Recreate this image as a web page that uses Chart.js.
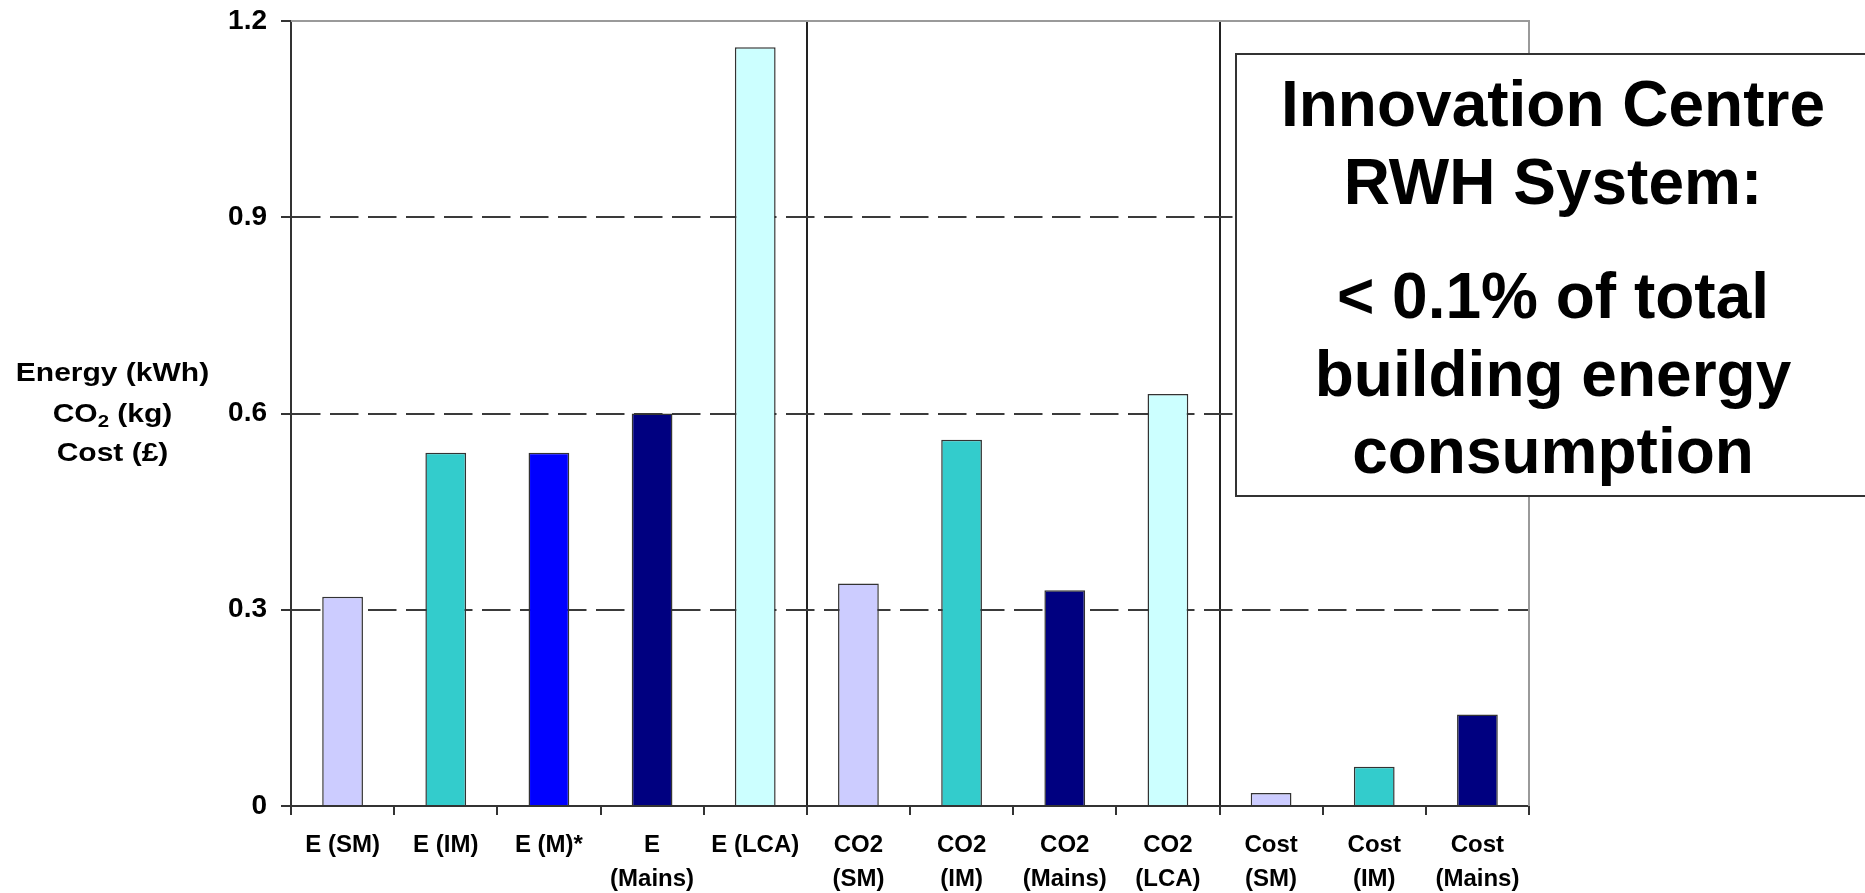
<!DOCTYPE html>
<html>
<head>
<meta charset="utf-8">
<title>Innovation Centre RWH System</title>
<script src="https://cdn.jsdelivr.net/npm/chart.js"></script>
<style>
  html, body { margin: 0; padding: 0; background: #ffffff; }
  canvas { display: block; }
</style>
</head>
<body>
<canvas id="chart" width="1865" height="893"></canvas>
<script>
// Categories on the x axis (multi-line labels are arrays of lines)
const categories = [
  'E (SM)', 'E (IM)', 'E (M)*', ['E', '(Mains)'], 'E (LCA)',
  ['CO2', '(SM)'], ['CO2', '(IM)'], ['CO2', '(Mains)'], ['CO2', '(LCA)'],
  ['Cost', '(SM)'], ['Cost', '(IM)'], ['Cost', '(Mains)']
];

// Bar values (kWh, kg CO2, £)
const values = [0.32, 0.54, 0.54, 0.60, 1.16, 0.34, 0.56, 0.33, 0.63, 0.02, 0.06, 0.14];

// Fill colour of each bar
const barColors = [
  '#CCCCFF', '#33CCCC', '#0000FF', '#000080', '#CCFFFF',
  '#CCCCFF', '#33CCCC', '#000080', '#CCFFFF',
  '#CCCCFF', '#33CCCC', '#000080'
];

// Value axis range and step
const yMin = 0;
const yMax = 1.2;
const yStep = 0.3;

// Group boundaries (index of the first category of each new group)
const groupStarts = [5, 9];

// Left-hand axis caption
const axisTitleLines = ['Energy (kWh)', 'CO\u2082 (kg)', 'Cost (\u00A3)'];

// Note box text
const noteLines = ['Innovation Centre', 'RWH System:', '< 0.1% of total', 'building energy', 'consumption'];

const FONT = '"Liberation Sans", Arial, Helvetica, sans-serif';

// Solid grey frame along the top and right of the plot area
const framePlugin = {
  id: 'plotFrame',
  beforeDatasetsDraw(chart) {
    const { ctx, chartArea: a } = chart;
    ctx.save();
    ctx.strokeStyle = '#9a9a9a';
    ctx.lineWidth = 2;
    ctx.beginPath();
    ctx.moveTo(a.left, a.top);
    ctx.lineTo(a.right, a.top);
    ctx.lineTo(a.right, a.bottom);
    ctx.stroke();
    ctx.restore();
  }
};

// Three-line caption to the left of the value axis, with subscript digits
const axisTitlePlugin = {
  id: 'axisCaption',
  afterDraw(chart) {
    const ctx = chart.ctx;
    const cx = 112.5;
    const baselines = [381, 422, 461];
    const size = 25;
    const subSize = 17;
    const stretch = 1.2;
    ctx.save();
    ctx.fillStyle = '#000';
    ctx.textBaseline = 'alphabetic';
    axisTitleLines.forEach((line, i) => {
      const runs = [];
      let buf = '';
      for (const ch of line) {
        if (ch === '\u2082') {
          if (buf) runs.push({ text: buf, sub: false });
          runs.push({ text: '2', sub: true });
          buf = '';
        } else {
          buf += ch;
        }
      }
      if (buf) runs.push({ text: buf, sub: false });
      let w = 0;
      runs.forEach(r => {
        ctx.font = 'bold ' + (r.sub ? subSize : size) + 'px ' + FONT;
        r.w = ctx.measureText(r.text).width;
        w += r.w;
      });
      ctx.save();
      ctx.translate(cx, baselines[i]);
      ctx.scale(stretch, 1);
      let x = -w / 2;
      runs.forEach(r => {
        ctx.font = 'bold ' + (r.sub ? subSize : size) + 'px ' + FONT;
        ctx.fillText(r.text, x, r.sub ? 4.5 : 0);
        x += r.w;
      });
      ctx.restore();
    });
    ctx.restore();
  }
};

// Boxed note at the upper right
const notePlugin = {
  id: 'noteBox',
  afterDraw(chart) {
    const ctx = chart.ctx;
    const box = { x: 1236, y: 54, w: 635, h: 442 };
    const cx = 1553;
    const baselines = [126, 204, 318, 396, 473];
    ctx.save();
    ctx.fillStyle = '#ffffff';
    ctx.fillRect(box.x, box.y, box.w, box.h);
    ctx.strokeStyle = '#333333';
    ctx.lineWidth = 2;
    ctx.strokeRect(box.x, box.y, box.w, box.h);
    ctx.fillStyle = '#000000';
    ctx.font = 'bold 64px ' + FONT;
    ctx.textAlign = 'center';
    ctx.textBaseline = 'alphabetic';
    noteLines.forEach((t, i) => ctx.fillText(t, cx, baselines[i]));
    ctx.restore();
  }
};

new Chart(document.getElementById('chart'), {
  type: 'bar',
  data: {
    labels: categories,
    datasets: [{
      data: values,
      backgroundColor: barColors,
      borderColor: '#333333',
      borderWidth: 1.5,
      barPercentage: 0.395,
      categoryPercentage: 1.0
    }]
  },
  options: {
    responsive: false,
    devicePixelRatio: 1,
    animation: false,
    layout: { padding: { top: 21, right: 336, bottom: 0, left: 0 } },
    plugins: {
      legend: { display: false },
      tooltip: { enabled: false },
      title: { display: false }
    },
    scales: {
      x: {
        offset: true,
        afterFit(scale) { scale.height = 87; },
        grid: {
          offset: true,
          drawOnChartArea: true,
          color: ctx => groupStarts.includes(ctx.index) ? '#222222' : 'rgba(0,0,0,0)',
          lineWidth: 2,
          tickLength: 9,
          tickColor: '#333333',
          tickWidth: 2
        },
        border: { display: true, color: '#333333', width: 2 },
        ticks: {
          autoSkip: false,
          maxRotation: 0,
          minRotation: 0,
          padding: 13.5,
          color: '#000000',
          font: { family: FONT, size: 24, weight: 'bold', lineHeight: 1.4 }
        }
      },
      y: {
        min: yMin,
        max: yMax,
        afterFit(scale) {
          scale.width = 291;
          scale.paddingTop = 0;
          scale.paddingBottom = 0;
        },
        grid: {
          color: ctx => (ctx.tick && ctx.tick.value > yMin && ctx.tick.value < yMax) ? '#3a3a3a' : 'rgba(0,0,0,0)',
          lineWidth: 2,
          tickLength: 10,
          tickColor: '#333333',
          tickWidth: 2
        },
        border: { display: true, color: '#333333', width: 2, dash: [28.5, 9.5] },
        ticks: {
          stepSize: yStep,
          padding: 14,
          color: '#000000',
          font: { family: FONT, size: 28, weight: 'bold' }
        }
      }
    }
  },
  plugins: [framePlugin, axisTitlePlugin, notePlugin]
});
</script>
</body>
</html>
